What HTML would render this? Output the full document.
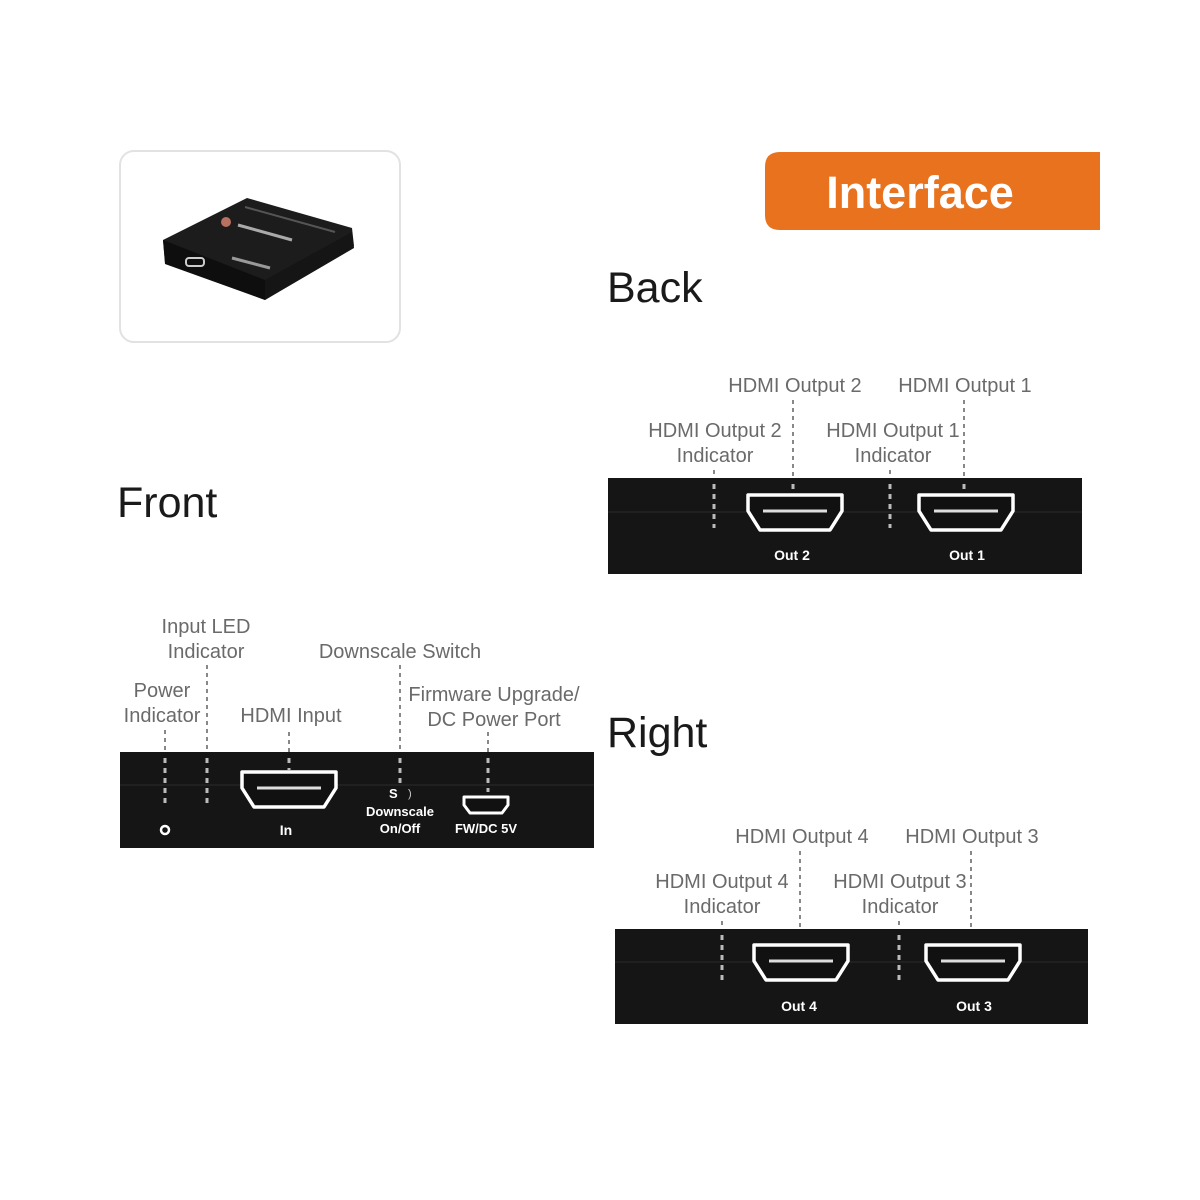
<!DOCTYPE html>
<html><head><meta charset="utf-8"><style>
html,body{margin:0;padding:0;background:#fff;}
svg{display:block;}
.lb{font-family:"Liberation Sans Narrow","Liberation Sans",sans-serif;font-size:20px;fill:#6a6a6a;text-anchor:middle;}
.hd{font-family:"Liberation Sans",sans-serif;font-size:43px;fill:#1a1a1a;}
.pl{font-family:"Liberation Sans",sans-serif;font-size:14px;font-weight:bold;fill:#fff;text-anchor:middle;}
.dl{stroke:#888;stroke-width:2;stroke-dasharray:4 4;fill:none;}
.dw{stroke:#bbb;stroke-width:3;stroke-dasharray:5 5;fill:none;}
.port{fill:#111;stroke:#fff;stroke-width:3.5;stroke-linejoin:round;}
</style></head><body>
<svg width="1200" height="1200" viewBox="0 0 1200 1200" xmlns="http://www.w3.org/2000/svg">
<defs>
<g id="hdmi">
<path class="port" d="M-47,0 H47 V16 L35,35 H-35 L-47,16 Z"/>
<line x1="-32" y1="16" x2="32" y2="16" stroke="#ddd" stroke-width="3"/>
</g>
</defs>
<!-- product card -->
<rect x="120" y="151" width="280" height="191" rx="14" fill="#fff" stroke="#e2e2e2" stroke-width="2"/>
<g>
<polygon points="163,240 247,198 352,228 354,246 265,300 165,262" fill="#1c1c1c"/>
<polygon points="163,240 265,280 265,300 165,264" fill="#0e0e0e"/>
<polygon points="265,280 352,232 354,248 265,300" fill="#151515"/>
<circle cx="226" cy="222" r="5" fill="#b87060"/>
<line x1="238" y1="225" x2="292" y2="240" stroke="#aaa" stroke-width="3"/>
<line x1="245" y1="207" x2="335" y2="232" stroke="#555" stroke-width="2"/>
<line x1="232" y1="258" x2="270" y2="268" stroke="#999" stroke-width="3"/>
<rect x="186" y="258" width="18" height="8" rx="3" fill="none" stroke="#ccc" stroke-width="2"/>
</g>
<!-- banner -->
<path d="M780,152 H1100 V230 H780 Q765,230 765,215 V167 Q765,152 780,152 Z" fill="#e8721e"/>
<text x="920" y="208" font-family="Liberation Sans,sans-serif" font-size="45" font-weight="bold" fill="#fff" text-anchor="middle">Interface</text>
<!-- headings -->
<text class="hd" x="607" y="302">Back</text>
<text class="hd" x="117" y="517">Front</text>
<text class="hd" x="607" y="747">Right</text>

<!-- BACK -->
<text class="lb" x="795" y="392">HDMI Output 2</text>
<text class="lb" x="965" y="392">HDMI Output 1</text>
<text class="lb" x="715" y="437">HDMI Output 2</text>
<text class="lb" x="715" y="462">Indicator</text>
<text class="lb" x="893" y="437">HDMI Output 1</text>
<text class="lb" x="893" y="462">Indicator</text>
<rect x="608" y="478" width="474" height="96" fill="#151515"/>
<line x1="608" y1="512" x2="1082" y2="512" stroke="#2a2a2a" stroke-width="1"/>
<line class="dl" x1="714" y1="470" x2="714" y2="478"/>
<line class="dl" x1="793" y1="400" x2="793" y2="478"/>
<line class="dl" x1="890" y1="470" x2="890" y2="478"/>
<line class="dl" x1="964" y1="400" x2="964" y2="478"/>
<line class="dw" x1="714" y1="484" x2="714" y2="528"/>
<line class="dw" x1="890" y1="484" x2="890" y2="528"/>
<line class="dw" x1="793" y1="484" x2="793" y2="494"/>
<line class="dw" x1="964" y1="484" x2="964" y2="494"/>
<use href="#hdmi" x="795" y="495"/>
<use href="#hdmi" x="966" y="495"/>
<text class="pl" x="792" y="560">Out 2</text>
<text class="pl" x="967" y="560">Out 1</text>

<!-- RIGHT -->
<text class="lb" x="802" y="843">HDMI Output 4</text>
<text class="lb" x="972" y="843">HDMI Output 3</text>
<text class="lb" x="722" y="888">HDMI Output 4</text>
<text class="lb" x="722" y="913">Indicator</text>
<text class="lb" x="900" y="888">HDMI Output 3</text>
<text class="lb" x="900" y="913">Indicator</text>
<rect x="615" y="929" width="473" height="95" fill="#151515"/>
<line x1="615" y1="962" x2="1088" y2="962" stroke="#2a2a2a" stroke-width="1"/>
<line class="dl" x1="722" y1="921" x2="722" y2="929"/>
<line class="dl" x1="800" y1="851" x2="800" y2="929"/>
<line class="dl" x1="899" y1="921" x2="899" y2="929"/>
<line class="dl" x1="971" y1="851" x2="971" y2="929"/>
<line class="dw" x1="722" y1="935" x2="722" y2="980"/>
<line class="dw" x1="899" y1="935" x2="899" y2="980"/>
<use href="#hdmi" x="801" y="945"/>
<use href="#hdmi" x="973" y="945"/>
<text class="pl" x="799" y="1011">Out 4</text>
<text class="pl" x="974" y="1011">Out 3</text>

<!-- FRONT -->
<text class="lb" x="206" y="633">Input LED</text>
<text class="lb" x="206" y="658">Indicator</text>
<text class="lb" x="400" y="658">Downscale Switch</text>
<text class="lb" x="162" y="697">Power</text>
<text class="lb" x="162" y="722">Indicator</text>
<text class="lb" x="291" y="722">HDMI Input</text>
<text class="lb" x="494" y="701">Firmware Upgrade/</text>
<text class="lb" x="494" y="726">DC Power Port</text>
<rect x="120" y="752" width="474" height="96" fill="#151515"/>
<line x1="120" y1="785" x2="594" y2="785" stroke="#2a2a2a" stroke-width="1"/>
<line class="dl" x1="165" y1="730" x2="165" y2="752"/>
<line class="dl" x1="207" y1="665" x2="207" y2="752"/>
<line class="dl" x1="289" y1="732" x2="289" y2="752"/>
<line class="dl" x1="400" y1="665" x2="400" y2="752"/>
<line class="dl" x1="488" y1="732" x2="488" y2="752"/>
<line class="dw" x1="165" y1="758" x2="165" y2="805"/>
<line class="dw" x1="207" y1="758" x2="207" y2="805"/>
<line class="dw" x1="289" y1="758" x2="289" y2="770"/>
<line class="dw" x1="400" y1="758" x2="400" y2="785"/>
<line class="dw" x1="488" y1="758" x2="488" y2="792"/>
<use href="#hdmi" x="289" y="772"/>
<circle cx="165" cy="830" r="4" fill="none" stroke="#fff" stroke-width="2.5"/>
<text class="pl" x="286" y="835">In</text>
<text x="389" y="798" font-family="Liberation Sans,sans-serif" font-size="13" font-weight="bold" fill="#fff">S</text>
<text x="408" y="797" font-family="Liberation Sans,sans-serif" font-size="11" fill="#ccc">)</text>
<text class="pl" x="400" y="816" style="font-size:13px">Downscale</text>
<text class="pl" x="400" y="833" style="font-size:13px">On/Off</text>
<path d="M464,797 H508 V805 L502,813 H470 L464,805 Z" fill="#111" stroke="#fff" stroke-width="3" stroke-linejoin="round"/>
<text class="pl" x="486" y="833" style="font-size:13px">FW/DC 5V</text>
</svg>
</body></html>
